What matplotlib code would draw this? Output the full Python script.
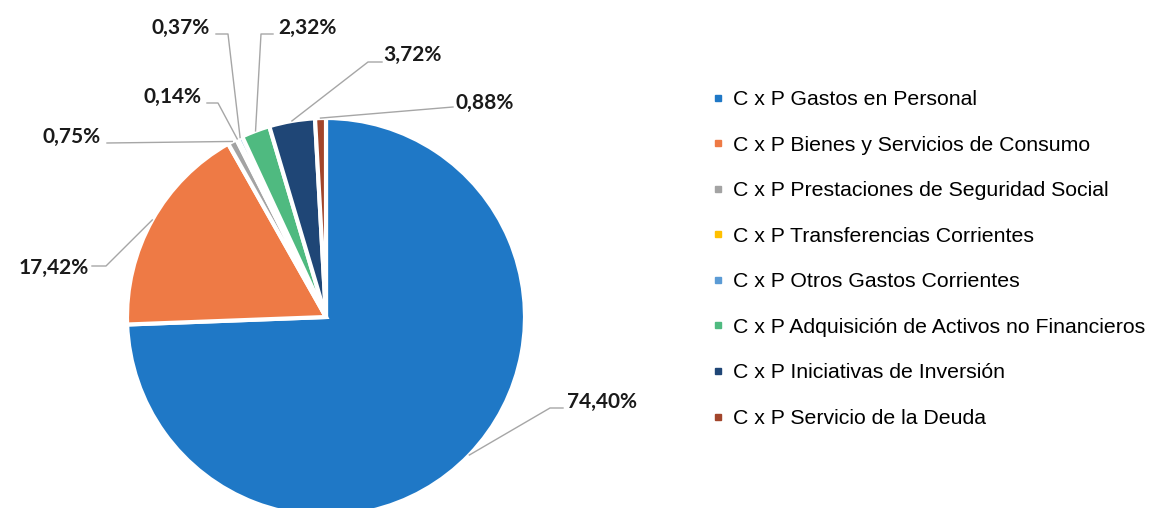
import numpy as np
import matplotlib
matplotlib.use("Agg")
import matplotlib.pyplot as plt
from matplotlib.lines import Line2D

# ---- data ----
categories = [
    "C x P Gastos en Personal",
    "C x P Bienes y Servicios de Consumo",
    "C x P Prestaciones de Seguridad Social",
    "C x P Transferencias Corrientes",
    "C x P Otros Gastos Corrientes",
    "C x P Adquisición de Activos no Financieros",
    "C x P Iniciativas de Inversión",
    "C x P Servicio de la Deuda",
]
values = [74.40, 17.42, 0.75, 0.14, 0.37, 2.32, 3.72, 0.88]
colors = ["#1F78C6", "#EE7A45", "#A3A3A3", "#FFC000",
          "#5B9BD5", "#4FBA80", "#1F4676", "#A2452B"]

# ---- layout (pixels, top-left origin) ----
W, H = 1152, 508
CX, CY, R = 326, 317, 199
label_pos = [(602, 402), (54, 268), (72, 137), (172, 97),
             (181, 28), (307, 28), (412, 55), (485, 103)]
leader_pts = [
    [(563, 408), (550, 408)],
    [(92, 266), (106, 266)],
    [(107, 143)],
    [(207, 103), (218, 103)],
    [(216, 34), (228, 34)],
    [(273, 34), (261, 34)],
    [(382, 62), (368, 62)],
    [(453, 107)],
]

fig = plt.figure(figsize=(W / 100, H / 100), dpi=100)
ax = fig.add_axes([(CX - R) / W, (H - CY - R) / H, 2 * R / W, 2 * R / H])

wedges, _ = ax.pie(values, colors=colors, startangle=90, counterclock=False,
                   radius=1.0,
                   wedgeprops=dict(edgecolor="white", linewidth=3))
ax.set_xlim(-1, 1)
ax.set_ylim(-1, 1)
ax.set_aspect("equal")
ax.axis("off")
for w in wedges:
    w.set_clip_on(False)


def px2data(p):
    return ((p[0] - CX) / R, (CY - p[1]) / R)


for w, v, lp, pts in zip(wedges, values, label_pos, leader_pts):
    mid = np.deg2rad((w.theta1 + w.theta2) / 2)
    anchor = (np.cos(mid) * 1.0, np.sin(mid) * 1.0)
    path = [px2data(p) for p in pts] + [anchor]
    xs, ys = zip(*path)
    ax.plot(xs, ys, color="#A6A6A6", lw=1.0, clip_on=False, zorder=1)
    tx, ty = px2data(lp)
    ax.text(tx, ty, f"{v:.2f}".replace(".", ",") + "%", ha="center",
            va="center", fontsize=15, fontweight="bold", family="Lato",
            color="#1A1A1A", clip_on=False)

handles = [Line2D([0], [0], marker="s", linestyle="none", markersize=4,
                  markerfacecolor=c, markeredgecolor=c) for c in colors]
fig.legend(handles, categories, loc="upper left",
           bbox_to_anchor=(712 / W, (H - 90) / H), frameon=False,
           prop=dict(family="Liberation Sans", size=15.3),
           handlelength=0.6, handletextpad=0.4, labelspacing=1.25,
           borderpad=0, borderaxespad=0)

fig.savefig("out.png", dpi=100, facecolor="white")
